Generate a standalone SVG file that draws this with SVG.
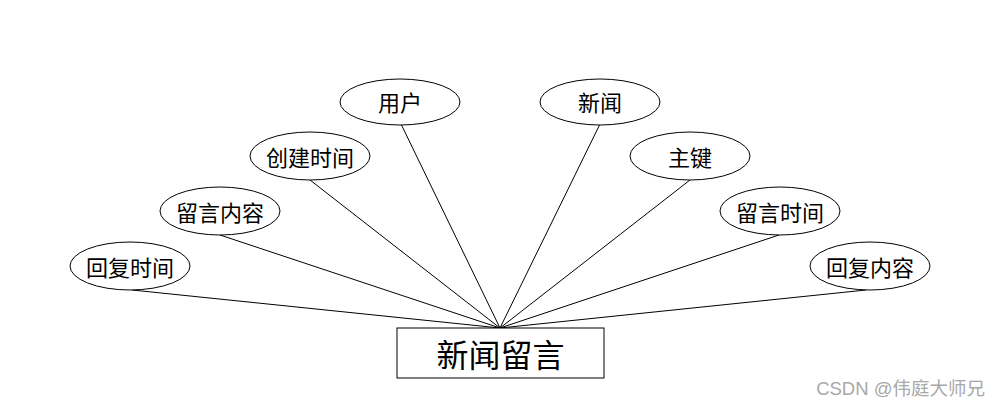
<svg xmlns="http://www.w3.org/2000/svg" width="1000" height="408" viewBox="0 0 1000 408">
<style>
.n ellipse{fill:#fff;stroke:#000;stroke-width:1}
.n text{font-family:"Noto Sans CJK SC","Liberation Sans",sans-serif;font-size:22px;fill:#000;text-anchor:middle;dominant-baseline:central}
#connectors line{stroke:#000;stroke-width:1}
.wm{font-family:"Liberation Sans","Noto Sans CJK SC",sans-serif;font-size:18.5px;fill:#a8a8a8}
</style>
<rect width="1000" height="408" fill="#fff"/>
<g id="connectors">
<line x1="401" y1="124" x2="500" y2="328"/>
<line x1="600" y1="124" x2="500" y2="328"/>
<line x1="310" y1="180" x2="500" y2="328"/>
<line x1="690" y1="180" x2="500" y2="328"/>
<line x1="220" y1="235" x2="500" y2="328"/>
<line x1="779" y1="235" x2="500" y2="328"/>
<line x1="132" y1="290" x2="500" y2="328"/>
<line x1="866" y1="290" x2="500" y2="328"/>
</g>
<g id="user" class="n"><ellipse cx="400" cy="102" rx="60" ry="23"/><text x="400" y="101">用户</text></g>
<g id="news" class="n"><ellipse cx="600" cy="102" rx="60" ry="23"/><text x="600" y="101">新闻</text></g>
<g id="createtime" class="n"><ellipse cx="310" cy="156" rx="60" ry="24"/><text x="310" y="156">创建时间</text></g>
<g id="pk" class="n"><ellipse cx="690" cy="156" rx="60" ry="24"/><text x="690" y="156">主键</text></g>
<g id="content" class="n"><ellipse cx="220" cy="211" rx="60" ry="24"/><text x="220" y="211">留言内容</text></g>
<g id="msgtime" class="n"><ellipse cx="780" cy="211" rx="60" ry="24"/><text x="780" y="211">留言时间</text></g>
<g id="replytime" class="n"><ellipse cx="130" cy="266" rx="60" ry="24"/><text x="130" y="266">回复时间</text></g>
<g id="replycontent" class="n"><ellipse cx="870" cy="266" rx="60" ry="24"/><text x="870" y="266">回复内容</text></g>
<g id="entity"><rect x="397" y="328" width="207" height="50" fill="#fff" stroke="#000" stroke-width="1"/><text x="500.5" y="353" style="font-family:'Noto Sans CJK SC','Liberation Sans',sans-serif;font-size:32px;text-anchor:middle;dominant-baseline:central">新闻留言</text></g>
<text class="wm" x="985" y="395" text-anchor="end">CSDN @伟庭大师兄</text>
</svg>
